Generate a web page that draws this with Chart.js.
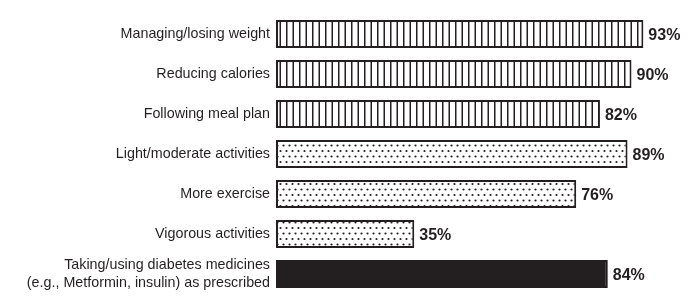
<!DOCTYPE html>
<html>
<head>
<meta charset="utf-8">
<script src="https://cdn.jsdelivr.net/npm/chart.js@4"></script>
<style>
  body { margin: 0; background: #fff; }
  #wrap { width: 691px; height: 307px; }
</style>
</head>
<body>
<div id="wrap"><canvas id="myChart" width="691" height="307"></canvas></div>
<script>
// data
const categories = [
    "Managing/losing weight",
    "Reducing calories",
    "Following meal plan",
    "Light/moderate activities",
    "More exercise",
    "Vigorous activities",
    ["Taking/using diabetes medicines", "(e.g., Metformin, insulin) as prescribed"]
]
const percents = [93, 90, 82, 89, 76, 35, 84]
const fillKinds = ["stripes", "stripes", "stripes", "dots", "dots", "dots", "solid"]

const ink = "#231f20"

function stripePattern() {
    // two stripes per 13px tile -> 6.5px apart
    const c = document.createElement("canvas")
    c.width = 13; c.height = 6
    const g = c.getContext("2d")
    g.fillStyle = "#fff"
    g.fillRect(0, 0, 13, 6)
    g.fillStyle = ink
    g.fillRect(0, 0, 1.5, 6)
    g.fillRect(6.5, 0, 1.5, 6)
    return g.createPattern(c, "repeat")
}

function dotPattern() {
    const c = document.createElement("canvas")
    c.width = 6; c.height = 11
    const g = c.getContext("2d")
    g.fillStyle = "#fff"
    g.fillRect(0, 0, 6, 11)
    g.fillStyle = ink
    g.beginPath(); g.arc(1.5, 2.5, 1.1, 0, Math.PI * 2); g.fill()
    g.beginPath(); g.arc(4.5, 8, 1.1, 0, Math.PI * 2); g.fill()
    return g.createPattern(c, "repeat")
}

const fills = { stripes: stripePattern(), dots: dotPattern(), solid: ink }

// bold percent next to every bar
const valueLabels = {
    id: "valueLabels",
    afterDatasetsDraw(chart) {
        const ctx = chart.ctx
        const meta = chart.getDatasetMeta(0)
        ctx.save()
        ctx.font = "bold 16px 'Liberation Sans', Arial, sans-serif"
        ctx.fillStyle = ink
        ctx.textAlign = "left"
        ctx.textBaseline = "middle"
        meta.data.forEach((bar, i) => {
            ctx.fillText(percents[i] + "%", bar.x + 5, bar.y + 2)
        })
        ctx.restore()
    }
}

const ctx = document.getElementById("myChart").getContext("2d")
const myChart = new Chart(ctx, {
    type: "bar",
    data: {
        labels: categories,
        datasets: [{
            data: percents,
            backgroundColor: fillKinds.map(k => fills[k]),
            borderColor: ink,
            borderWidth: 2,
            borderSkipped: false,
            categoryPercentage: 0.8,
            barPercentage: 0.88
        }]
    },
    options: {
        indexAxis: "y",
        responsive: false,
        animation: false,
        layout: { padding: { top: 14, bottom: 13, right: 20, left: 0 } },
        scales: {
            x: { display: false, min: 0, max: 100 },
            y: {
                grid: { display: false, drawTicks: false },
                border: { display: false },
                ticks: {
                    color: ink,
                    padding: 6,
                    font: { family: "'Liberation Sans', Arial, sans-serif", size: 14.3 }
                },
                afterFit(scale) {
                    scale.width = 276
                    scale.paddingTop = 0
                    scale.paddingBottom = 0
                }
            }
        },
        plugins: {
            legend: { display: false },
            tooltip: { enabled: false }
        }
    },
    plugins: [valueLabels]
})
</script>
</body>
</html>
